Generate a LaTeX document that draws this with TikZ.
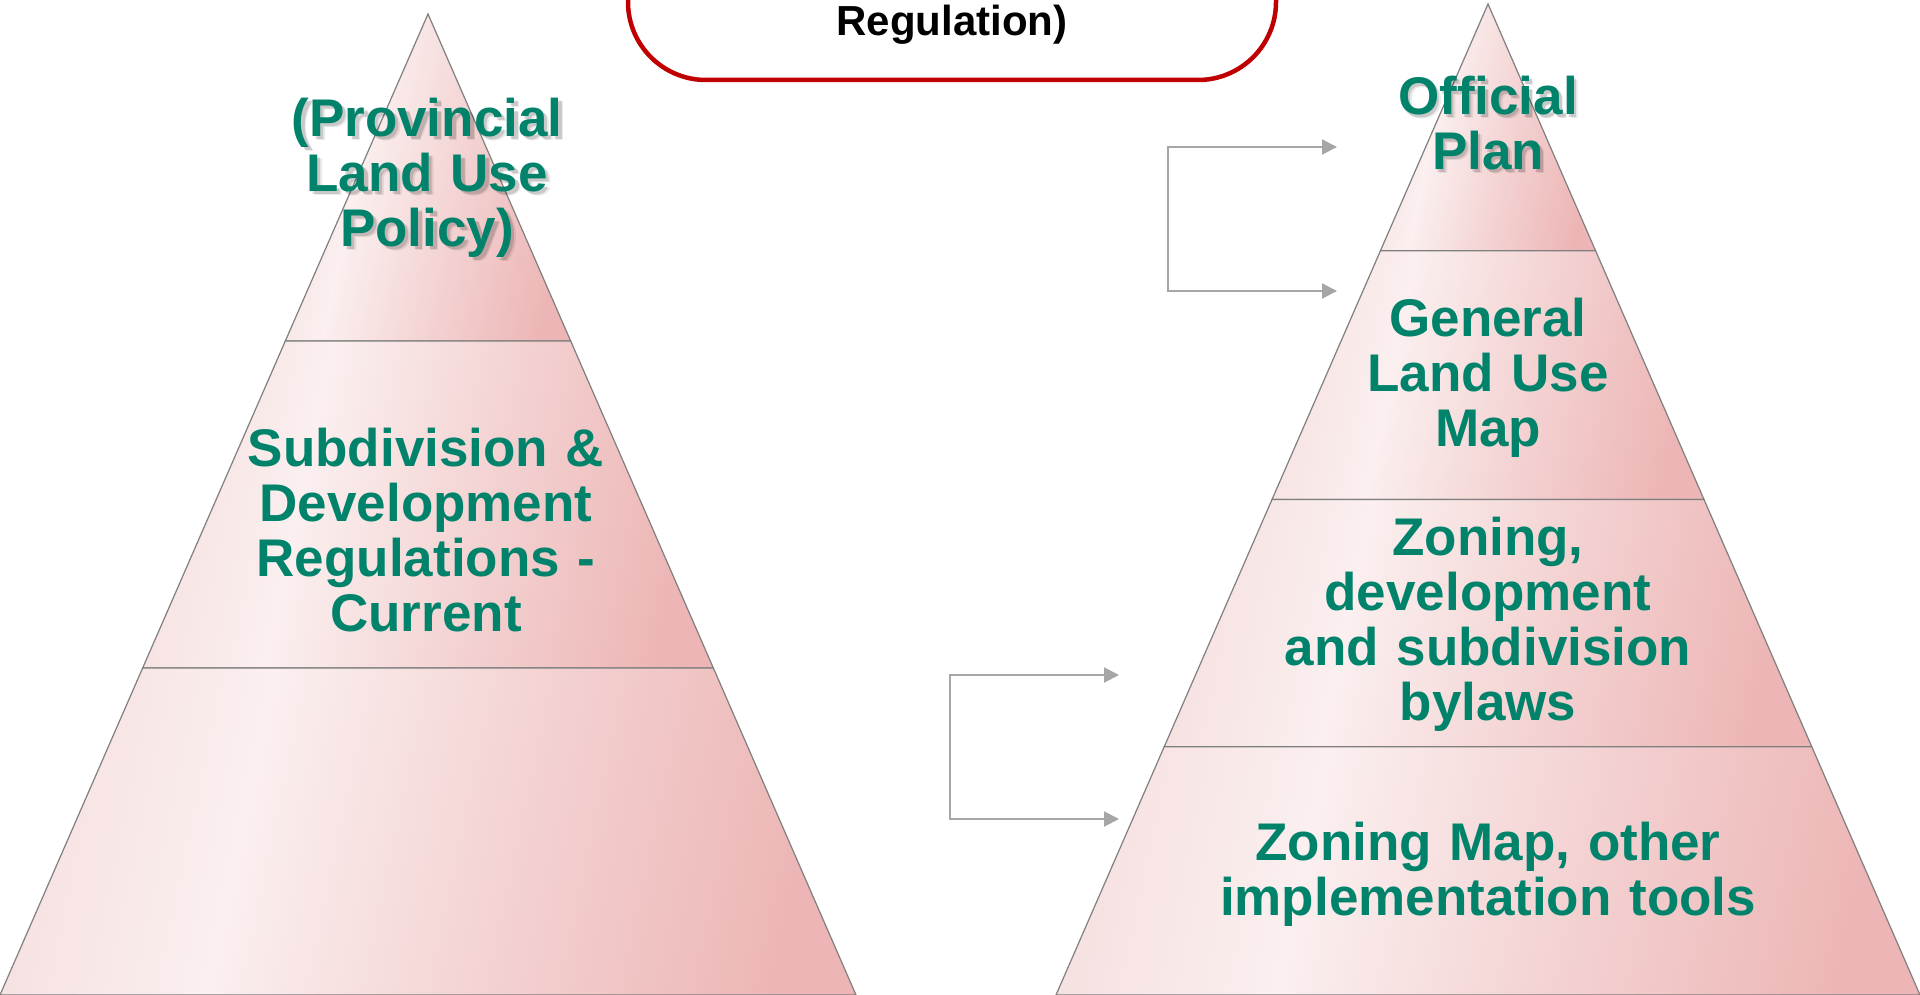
\documentclass[tikz,border=0pt]{standalone}
\usepackage{fontspec}
\setmainfont{Liberation Sans}
\usetikzlibrary{arrows.meta,calc}
\definecolor{txtgreen}{HTML}{00836A}
\definecolor{pkE}{HTML}{F7E2E2}
\definecolor{pkL}{HTML}{FBEFEF}
\definecolor{pkM}{HTML}{F4D3D3}
\definecolor{pkD}{HTML}{EDB5B5}
\definecolor{edgegray}{HTML}{7F7F7F}
\definecolor{arrgray}{HTML}{A6A6A6}
\definecolor{boxred}{HTML}{C00000}
\pgfdeclarehorizontalshading{pyrshade}{100bp}{color(0bp)=(pkE); color(25bp)=(pkE); color(38bp)=(pkL); color(55bp)=(pkM); color(75bp)=(pkD); color(100bp)=(pkD)}
\tikzset{
  layer/.style={draw=edgegray, line width=1.2pt, shading=pyrshade, shading angle=-12},
  lbl/.style={text=txtgreen, font=\bfseries\fontsize{53}{55}\selectfont, text width=700pt, align=center, anchor=base, inner sep=0pt, outer sep=0pt},
  shd/.style={lbl, text=black, text opacity=#1},
  conn/.style={draw=arrgray, line width=2pt, {Triangle[length=15pt,width=15pt]}-{Triangle[length=15pt,width=15pt]}},
  topbox/.style={draw=boxred, line width=4.5pt, rounded corners=78pt, minimum width=648pt, minimum height=260pt, anchor=south, inner sep=0pt, outer sep=0pt},
}
\begin{document}
\begin{tikzpicture}[x=1pt,y=-1pt]
\useasboundingbox (0,0) rectangle (1920,995);
\clip (0,0) rectangle (1920,995);
\fill[white] (0,0) rectangle (1920,995);

% top box
\node[topbox] (box) at (952,80) {};
\node[font=\bfseries\fontsize{42}{44}\selectfont, anchor=base, inner sep=0pt] (boxtxt) at (952,36) {Regulation)};

% left pyramid
\coordinate (LA) at (428,14);
\coordinate (LL) at (0,995);
\coordinate (LR) at (856,995);
\coordinate (L1l) at ($(LA)!0.33333!(LL)$);
\coordinate (L1r) at ($(LA)!0.33333!(LR)$);
\coordinate (L2l) at ($(LA)!0.66667!(LL)$);
\coordinate (L2r) at ($(LA)!0.66667!(LR)$);
\shadedraw[layer] (LA) -- (L1r) -- (L1l) -- cycle;
\shadedraw[layer] (L1l) -- (L1r) -- (L2r) -- (L2l) -- cycle;
\shadedraw[layer] (L2l) -- (L2r) -- (LR) -- (LL) -- cycle;

% right pyramid
\coordinate (RA) at (1488,4);
\coordinate (RL) at (1056,995);
\coordinate (RR) at (1920,995);
\coordinate (R1l) at ($(RA)!0.249!(RL)$);
\coordinate (R1r) at ($(RA)!0.249!(RR)$);
\coordinate (R2l) at ($(RA)!0.5!(RL)$);
\coordinate (R2r) at ($(RA)!0.5!(RR)$);
\coordinate (R3l) at ($(RA)!0.7495!(RL)$);
\coordinate (R3r) at ($(RA)!0.7495!(RR)$);
\shadedraw[layer] (RA) -- (R1r) -- (R1l) -- cycle;
\shadedraw[layer] (R1l) -- (R1r) -- (R2r) -- (R2l) -- cycle;
\shadedraw[layer] (R2l) -- (R2r) -- (R3r) -- (R3l) -- cycle;
\shadedraw[layer] (R3l) -- (R3r) -- (RR) -- (RL) -- cycle;

% connectors
\coordinate (ua) at (1337,147);
\coordinate (ub) at (1168,147);
\coordinate (uc) at (1168,291);
\coordinate (ud) at (1337,291);
\draw[conn] (ua) -- (ub) -- (uc) -- (ud);
\coordinate (la) at (1119,675);
\coordinate (lb) at (950,675);
\coordinate (lc) at (950,819);
\coordinate (ld) at (1119,819);
\draw[conn] (la) -- (lb) -- (lc) -- (ld);

% shadows of top labels
\node[shd=0.08] (s1a) at (432,141) {(Provincial\\Land Use\\Policy)};
\node[shd=0.14] (s1b) at (430.5,139.5) {(Provincial\\Land Use\\Policy)};
\node[shd=0.08] (s2a) at (1492,119) {Official\\Plan};
\node[shd=0.14] (s2b) at (1490.5,117.5) {Official\\Plan};

% labels
\node[lbl] (prov) at (427,136.7) {(Provincial\\Land Use\\Policy)};
\node[lbl] (subdiv) at (426,466) {Subdivision \&\\Development\\Regulations -\\Current};
\node[lbl] (offp) at (1488,115) {Official\\Plan};
\node[lbl] (glum) at (1488,336.7) {General\\Land Use\\Map};
\node[lbl] (zoning) at (1488,555) {Zoning,\\development\\and subdivision\\bylaws};
\node[lbl] (zmap) at (1488,860) {Zoning Map, other\\implementation tools};
\end{tikzpicture}
\end{document}
